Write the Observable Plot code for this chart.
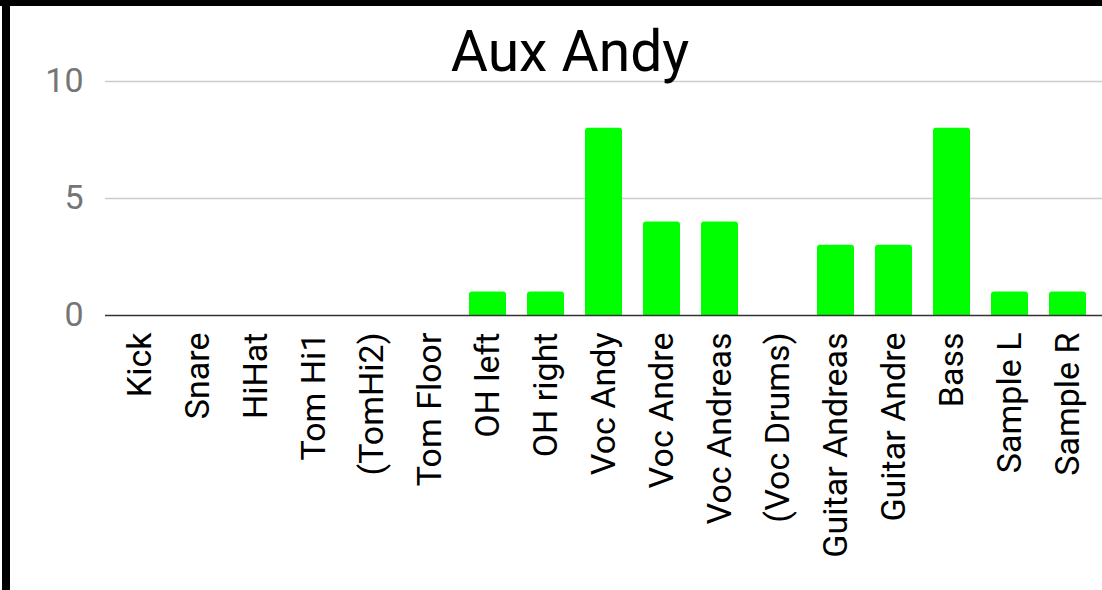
<!DOCTYPE html>
<html>
<head>
<meta charset="utf-8">
<script src="https://cdn.jsdelivr.net/npm/d3@7"></script>
<script src="https://cdn.jsdelivr.net/npm/@observablehq/plot@0.6"></script>
<style>
  html, body { margin: 0; padding: 0; background: #fff; }
  #wrap { position: relative; width: 1102px; height: 590px; overflow: hidden; }
  .bt { position: absolute; left: 0; top: 0; width: 1102px; height: 6px; background: #000; }
  .bl { position: absolute; left: 2px; top: 0; width: 8px; height: 590px; background: #000; }
</style>
</head>
<body>
<div id="wrap"></div>
<script>
const title = "Aux Andy";
const categories = ["Kick", "Snare", "HiHat", "Tom Hi1", "(TomHi2)", "Tom Floor", "OH left", "OH right",
  "Voc Andy", "Voc Andre", "Voc Andreas", "(Voc Drums)", "Guitar Andreas", "Guitar Andre", "Bass", "Sample L", "Sample R"];
const values = [0, 0, 0, 0, 0, 0, 1, 1, 8, 4, 4, 0, 3, 3, 8, 1, 1];
const yTicks = [0, 5, 10];

const data = categories.map((c, i) => ({cat: c, v: values[i]}));

const chart = Plot.plot({
  width: 1102,
  height: 590,
  marginLeft: 105,
  marginRight: 0,
  marginTop: 81,
  marginBottom: 275,
  style: {fontFamily: "Roboto, 'Liberation Sans', sans-serif", background: "#fff"},
  x: {domain: categories, range: [111, 1097], paddingInner: 0.36, paddingOuter: 0.18},
  y: {domain: [0, 10]},
  marks: [
    Plot.ruleY([5, 10], {stroke: "#cccccc", strokeWidth: 1.5}),
    Plot.barY(data.filter(d => d.v > 0), {x: "cat", y: "v", fill: "#00ff00", ry1: 3}),
    Plot.ruleY([0], {stroke: "#333333", strokeWidth: 1.5}),
    Plot.axisY({ticks: yTicks, tickSize: 0, tickPadding: 22, fontSize: 34, fill: "#757575", label: null}),
    Plot.axisX({tickSize: 0, tickPadding: 17, tickRotate: -90, fontSize: 34, fill: "#000", label: null}),
    Plot.text([title], {frameAnchor: "top", dy: -51, text: d => d, fontSize: 57, fill: "#000", dx: -34})
  ]
});
const wrap = document.getElementById("wrap");
wrap.appendChild(chart);
const bt = document.createElement("div"); bt.className = "bt"; wrap.appendChild(bt);
const bl = document.createElement("div"); bl.className = "bl"; wrap.appendChild(bl);
</script>
</body>
</html>
